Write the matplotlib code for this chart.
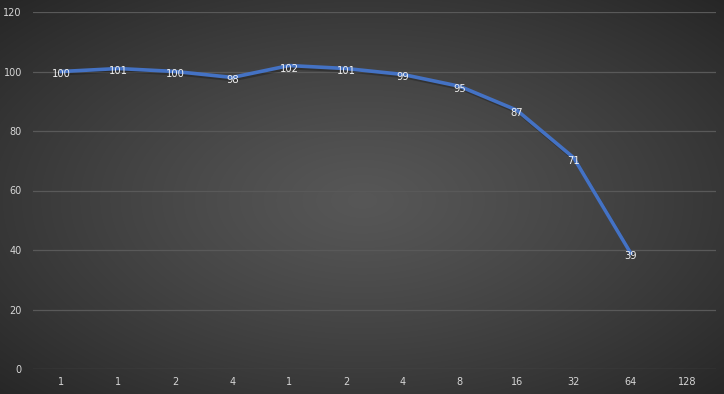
import numpy as np
import matplotlib.pyplot as plt
import matplotlib.patheffects as pe

categories = ["1", "1", "2", "4", "1", "2", "4", "8", "16", "32", "64", "128"]
values = [100, 101, 100, 98, 102, 101, 99, 95, 87, 71, 39]
y_ticks = [0, 20, 40, 60, 80, 100, 120]

fig = plt.figure(figsize=(7.24, 3.94), dpi=100)

# radial gradient background
bg = fig.add_axes([0, 0, 1, 1])
yy, xx = np.mgrid[0:394, 0:724]
r = np.sqrt(((xx - 362) / 362.0) ** 2 + ((yy - 200) / 200.0) ** 2) / np.sqrt(2)
shade = 0.34 - 0.19 * np.clip(r, 0, 1) ** 1.2
bg.imshow(np.dstack([shade] * 3), aspect="auto", extent=[0, 1, 0, 1])
bg.set_axis_off()

ax = fig.add_axes([33 / 724, 25 / 394, 683 / 724, 357 / 394])
ax.patch.set_alpha(0)
x = np.arange(len(values))
ax.plot(x, values, color="#4472c4", lw=2.6, solid_joinstyle="round",
        path_effects=[pe.SimpleLineShadow(offset=(1, -1.5), alpha=0.25), pe.Normal()])
for xi, v in zip(x, values):
    ax.text(xi, v - 1, str(v), ha="center", va="center", fontsize=7.2,
            color="#f0f0f0")

ax.set_xlim(-0.5, len(categories) - 0.5)
ax.set_ylim(0, 120)
ax.set_xticks(np.arange(len(categories)))
ax.set_xticklabels(categories)
ax.set_yticks(y_ticks)
ax.grid(axis="y", color="#595959", lw=0.9)
ax.set_axisbelow(True)
for s in ax.spines.values():
    s.set_visible(False)
ax.tick_params(length=0, colors="#d6d6d6", labelsize=7)
ax.tick_params(axis="x", pad=6)
ax.tick_params(axis="y", pad=8)

fig.savefig("out.png", dpi=100)
